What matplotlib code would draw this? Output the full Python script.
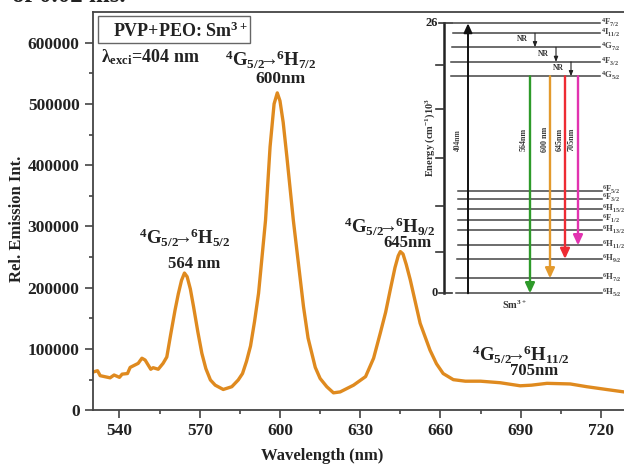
import matplotlib
matplotlib.use("Agg")
import matplotlib.pyplot as plt
from matplotlib.patches import Rectangle

plt.rcParams['font.family'] = ['Liberation Serif', 'DejaVu Sans']
plt.rcParams['font.weight'] = 'bold'
plt.rcParams['mathtext.fontset'] = 'custom'
plt.rcParams['mathtext.rm'] = 'Liberation Serif:bold'
plt.rcParams['mathtext.it'] = 'Liberation Serif:bold'
plt.rcParams['mathtext.bf'] = 'Liberation Serif:bold'
plt.rcParams['mathtext.fallback'] = 'stix'
plt.rcParams['mathtext.default'] = 'rm'

# Spectrum
wavelength = [530.3, 531.8, 532.8, 536.5, 538, 540, 541, 543, 544, 547, 548.4, 549.6, 551.7, 552.6,
              554.5, 556.3, 557.7, 559.2, 560.8, 562, 563.2, 564.3, 565.3, 566.5, 567.7, 569.3, 570.8,
              572.3, 574, 575.8, 578.8, 582, 584.4, 586, 587.5, 589, 590.5, 592, 594.6, 596.3, 597.8,
              599, 600, 601.2, 602.6, 605, 608.8, 610.5, 613.2, 615, 617.5, 620, 622.5, 627.5, 632,
              635, 637.5, 639.5, 641.2, 643, 644.2, 645, 646, 647.2, 648.7, 652.4, 656.1, 658.5, 661,
              664.8, 669.3, 675, 682.3, 689.8, 694, 699.8, 708.5, 714.7, 722, 728.6]
intensity = [62700, 64600, 56500, 53000, 57600, 53800, 59000, 60000, 70000, 76600, 85000, 82000, 67000,
             69500, 67000, 76600, 87000, 125000, 164000, 190000, 212000, 224000, 218000, 198000, 169000,
             128000, 93000, 68000, 49500, 41000, 34000, 38500, 49500, 60000, 80000, 105000, 145000, 191000,
             310000, 430000, 500000, 518000, 505000, 470000, 413000, 310000, 169000, 118000, 70000, 52000,
             38500, 28500, 30000, 41000, 55000, 85000, 126000, 160000, 196000, 233000, 252000, 259000,
             255000, 238000, 213000, 142000, 98000, 76000, 60000, 50000, 47500, 47500, 45000, 40000, 41000,
             44000, 43000, 38500, 34000, 30000]
x_major = [540, 570, 600, 630, 660, 690, 720]
x_minor = [555, 585, 615, 645, 675, 705]
y_major = [0, 100000, 200000, 300000, 400000, 500000, 600000]
y_minor = [50000, 150000, 250000, 350000, 450000, 550000]

# Energy level diagram (energy in 10^3 cm^-1; x positions in inset units)
upper_levels = [26.0, 25.04, 23.69, 22.28, 20.9]
upper_starts = [43, 43, 42, 41, 41]
lower_levels = [9.86, 9.12, 8.12, 7.09, 6.07, 4.62, 3.31, 1.44, 0.0]
lower_starts = [48, 48, 48, 48, 48, 48, 47, 46, 46]
energy_ticks = [0, 3.98, 8.4, 13.0, 17.7, 22.0, 26]
emission_x = [120, 140, 155, 168]
emission_end = [0.0, 1.44, 3.31, 4.62]
emission_colors = ['#2e9a2a', '#e39a2d', '#ee2b33', '#e233b0']
emission_label_x = [114, 135, 150, 162]
emission_labels = ['564nm', '600 nm', '645nm', '705nm']
upper_names = [('4', 'F', '7/2'), ('4', 'I', '11/2'), ('4', 'G', '7/2'), ('4', 'F', '3/2'), ('4', 'G', '5/2')]
lower_names = [('6', 'F', '5/2'), ('6', 'F', '3/2'), ('6', 'H', '15/2'), ('6', 'F', '1/2'), ('6', 'H', '13/2'),
               ('6', 'H', '11/2'), ('6', 'H', '9/2'), ('6', 'H', '7/2'), ('6', 'H', '5/2')]
nr_x = [125, 146, 161]
nr_top = [25.04, 23.69, 22.28]
nr_bottom = [23.69, 22.28, 20.9]

W, H = 624, 466
fig = plt.figure(figsize=(W / 100, H / 100), dpi=100)
fig.patch.set_facecolor('white')
ax = fig.add_axes([92.7 / W, 1 - 410.3 / H, (W - 92.7) / W, (410.3 - 12) / H])
ax.plot(wavelength, intensity, color='#df8a1f', lw=2.4, solid_joinstyle='round')
ax.set_xlim(530, 728.6)
ax.set_ylim(0, 650000)
ax.spines['right'].set_visible(False)
for s in ['left', 'bottom', 'top']:
    ax.spines[s].set_linewidth(1.3)
    ax.spines[s].set_color('#444444')
ax.set_xticks(x_major)
ax.set_xticks(x_minor, minor=True)
ax.set_yticks(y_major)
ax.set_yticks(y_minor, minor=True)
ax.tick_params(axis='both', which='major', length=5.5, width=1.2, labelsize=12.5, color='#444444', pad=4,
               labelcolor='#222222')
ax.tick_params(axis='both', which='minor', length=3, width=1.2, color='#444444')


def ftext(px, py, s, size=12.5, **kw):
    kw.setdefault('ha', 'center')
    kw.setdefault('va', 'center')
    kw.setdefault('color', '#222222')
    return fig.text(px / W, 1 - py / H, s, fontsize=size, fontweight='bold', **kw)


ftext(322, 456, 'Wavelength (nm)', size=12)
ftext(17, 219, 'Rel. Emission Int.', size=12, rotation=90)

fig.add_artist(Rectangle((97.5 / W, 1 - 42.5 / H), 152.5 / W, 26.5 / H, transform=fig.transFigure,
                         fc='white', ec='#666666', lw=1))
ftext(180, 31, r'PVP+PEO: Sm$^{3+}$', size=13)
ftext(150, 57, r'$\lambda_{exci}$=404 nm', size=13)


def transition(px, py, upper, sub):
    s = rf'$^{{{upper[0]}}}${upper[1]}$_{{5/2}}$$\!\!\!\rightarrow\!\!$$^{{6}}$H$_{{{sub}}}$'
    return ftext(px, py, s, size=13.5)


transition(271, 60, ('4', 'G'), '7/2')
ftext(281, 79, '600nm', size=12.5)
transition(184.5, 238, ('4', 'G'), '5/2')
ftext(194, 264, '564 nm', size=12)
transition(390, 227, ('4', 'G'), '9/2')
ftext(407, 243, '645nm', size=12)
transition(521, 355, ('4', 'G'), '11/2')
ftext(534, 371, '705nm', size=12)
fig.text(12 / W, 1 - 1.6 / H, 'of 0.02 ms.', fontsize=18, fontweight='bold', ha='left', va='baseline',
         color='#222222')

# Inset energy diagram
ix0, ix1 = 410, 624
ins = fig.add_axes([ix0 / W, 1 - 293.3 / H, (ix1 - ix0) / W, 270 / H])
ins.patch.set_alpha(0)
ins.set_xlim(0, ix1 - ix0)
ins.set_ylim(0, 26)
for s in ins.spines.values():
    s.set_visible(False)
ins.set_xticks([])
ins.set_yticks([])

axis_x = 33.5
ins.plot([axis_x, axis_x], [0, 26], color='#222222', lw=1.8, clip_on=False)
for t in energy_ticks:
    if t in (0, 26):
        ins.plot([axis_x - 5, axis_x + 8], [t, t], color='#333333', lw=1.2, clip_on=False)
    else:
        ins.plot([axis_x - 8, axis_x], [t, t], color='#333333', lw=1.2, clip_on=False)
ins.text(axis_x - 6, 26, '26', ha='right', va='center', fontsize=9, color='#222222')
ins.text(axis_x - 6, 0, '0', ha='right', va='center', fontsize=9, color='#222222')
ins.text(20, 15, r'Energy (cm$^{-1}$)10$^{3}$', rotation=90, ha='center', va='center', fontsize=7.5,
         color='#333333')

for lvl, st in zip(upper_levels, upper_starts):
    ins.plot([st, 190], [lvl, lvl], color='#444444', lw=1.1, clip_on=False)
for lvl, st in zip(lower_levels, lower_starts):
    ins.plot([st, 192], [lvl, lvl], color='#444444', lw=1.1, clip_on=False)

# 404 nm excitation
ins.annotate('', xy=(58, 26), xytext=(58, 0),
             arrowprops=dict(arrowstyle='-|>,head_width=0.25,head_length=0.55', color='#111111', lw=1.4,
                             shrinkA=0, shrinkB=0))
ins.text(48, 14.8, '404nm', rotation=90, ha='center', va='center', fontsize=5.5, color='#444444')

for x, end, c in zip(emission_x, emission_end, emission_colors):
    ins.annotate('', xy=(x, end), xytext=(x, 20.9),
                 arrowprops=dict(arrowstyle='-|>,head_width=0.28,head_length=0.6', color=c, lw=1.7,
                                 shrinkA=0, shrinkB=0))
for x, lab in zip(emission_label_x, emission_labels):
    ins.text(x, 14.8, lab, rotation=90, ha='center', va='center', fontsize=5.8, color='#333333')

for x, a, b in zip(nr_x, nr_top, nr_bottom):
    ins.annotate('', xy=(x, b), xytext=(x, a),
                 arrowprops=dict(arrowstyle='-|>,head_width=0.12,head_length=0.3', color='#222222', lw=0.8,
                                 shrinkA=0, shrinkB=0))
    ins.text(x - 13, (a + b) / 2 + 0.1, 'NR', ha='center', va='center', fontsize=5.5, color='#333333')

for lvl, (a, b, c) in zip(upper_levels, upper_names):
    ins.text(191, lvl + 0.05, rf'$^{{{a}}}${b}$_{{{c}}}$', ha='left', va='center', fontsize=6.3,
             color='#444444', clip_on=False)
for lvl, (a, b, c) in zip(lower_levels, lower_names):
    ins.text(192, lvl + 0.05, rf'$^{{{a}}}${b}$_{{{c}}}$', ha='left', va='center', fontsize=6.3,
             color='#444444', clip_on=False)
ins.text(105, -1.1, r'Sm$^{3+}$', ha='center', va='center', fontsize=7.5, color='#333333', clip_on=False)

fig.savefig('out.png', dpi=100, facecolor='white')
